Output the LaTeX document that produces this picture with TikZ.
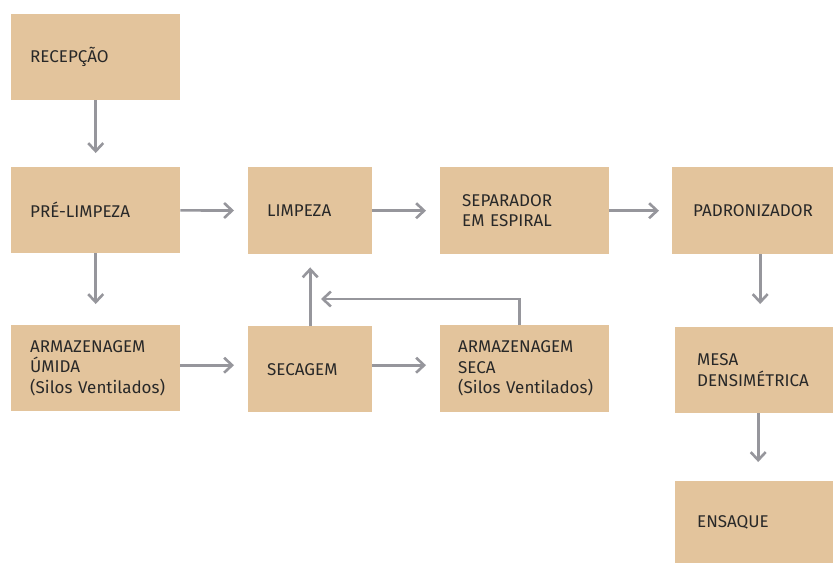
\documentclass[tikz,border=0pt]{standalone}
\usepackage{fontspec}
\setmainfont{Fira Sans}
\usetikzlibrary{arrows.meta}
\definecolor{boxfill}{RGB}{227,196,156}
\definecolor{flowgray}{RGB}{150,150,156}
\definecolor{textgray}{RGB}{40,40,40}
\tikzset{
  stage/.style={fill=boxfill, anchor=north west, inner xsep=19pt, inner ysep=0pt,
    align=left, text=textgray, font=\fontsize{17}{20.5}\selectfont},
  flow/.style={draw=flowgray, line width=2.6pt,
    -{Straight Barb[length=8pt,width=15pt]}, shorten >=14pt}
}
\begin{document}
\begin{tikzpicture}[x=1pt,y=-1pt]
  \useasboundingbox (0,0) rectangle (833,563);
  % left column
  \node[stage, text width=131pt, minimum height=86pt] (rec) at (11,14) {RECEPÇÃO};
  \node[stage, text width=131pt, minimum height=86pt] (pre) at (11,167) {PRÉ-LIMPEZA};
  \node[stage, text width=131pt, minimum height=86pt] (umi) at (11,325)
    {ARMAZENAGEM\\ÚMIDA\\\mbox{(Silos Ventilados)}};
  % middle
  \node[stage, text width=86pt, minimum height=87pt] (lim) at (248,167) {LIMPEZA};
  \node[stage, text width=86pt, minimum height=86pt] (sec) at (248,326) {SECAGEM};
  \node[stage, inner xsep=22pt, text width=125pt, minimum height=87pt] (sep) at (440,167)
    {SEPARADOR\\EM ESPIRAL};
  \node[stage, inner xsep=18pt, text width=133pt, minimum height=87pt] (seca) at (440,325)
    {ARMAZENAGEM\\SECA\\\mbox{(Silos Ventilados)}};
  % right column
  \node[stage, inner xsep=21pt, text width=119pt, minimum height=87pt] (pad) at (672,167) {PADRONIZADOR};
  \node[stage, inner xsep=22pt, text width=114pt, minimum height=86pt] (mesa) at (675,327)
    {MESA\\DENSIMÉTRICA};
  \node[stage, inner xsep=22pt, text width=114pt, minimum height=82pt] (ens) at (675,481) {ENSAQUE};
  \coordinate (back) at (321,299);

  \draw[flow] (rec) -- (pre);
  \draw[flow, shorten >=21pt] (pre) -- (umi);
  \draw[flow] (pre) -- (lim);
  \draw[flow] (lim) -- (sep);
  \draw[flow, shorten >=13pt] (sep) -- (pad);
  \draw[flow] ([yshift=3pt]umi.east) -- ([yshift=3pt]umi.east -| sec.west);
  \draw[flow] ([yshift=3pt]umi.east -| sec.east) -- ([yshift=3pt]umi.east -| seca.west);
  \draw[flow, shorten >=13pt] (sec.north) -- (sec.north |- lim.south);
  \draw[flow, shorten >=0pt] ([xshift=-5.5pt]seca.north) |- (back);
  \draw[flow, shorten >=23pt] ([xshift=7.5pt]pad.south) -- ([xshift=7.5pt]pad.south |- mesa.north);
  \draw[flow, shorten >=19pt] ([xshift=4pt]mesa.south) -- ([xshift=4pt]mesa.south |- ens.north);
\end{tikzpicture}
\end{document}
